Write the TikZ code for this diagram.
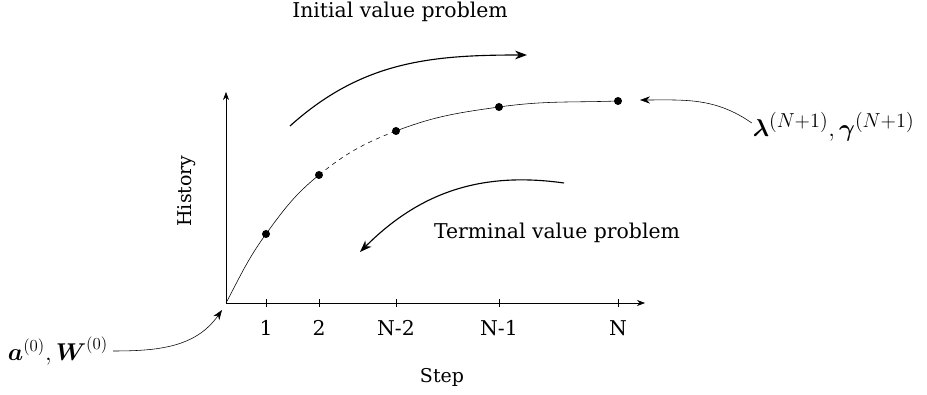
\documentclass[tikz,border=0pt]{standalone}
\usepackage{amsmath, amssymb}
\usepackage{fontspec}
\setmainfont{DejaVu Serif}
\usetikzlibrary{arrows.meta, positioning, calc}

\begin{document}
\begin{tikzpicture}[
  dot/.style={circle, fill=black, inner sep=0pt, minimum size=0.2cm},
  tick/.style={draw=none, inner sep=1pt},
  bigarrow/.style={thick, -{Stealth[length=0.3cm, width=0.22cm]}},
  smallarrow/.style={-{Stealth[length=0.25cm, width=0.18cm]}},
  font=\fontsize{14.5}{17}\selectfont]

  \useasboundingbox (0,0) rectangle (23.175,9.875);

  % axes
  \coordinate (O) at (5.65,2.3);
  \coordinate (ytop) at (5.65,7.575);
  \coordinate (xend) at (16.125,2.3);
  \draw[-{Stealth[length=0.2cm, width=0.15cm]}] (O) -- (ytop);
  \draw[-{Stealth[length=0.2cm, width=0.15cm]}] (O) -- (xend);

  % ticks and their labels
  \foreach \x/\lab/\nm in {6.65/1/t1, 7.975/2/t2, 9.9/N-2/t3, 12.475/N-1/t4, 15.45/N/t5} {
    \draw (\x,2.2) -- (\x,2.4);
    \node[tick] (\nm) at (\x,1.675) {\lab};
  }

  \node[font=\fontsize{13.5}{16}\selectfont] (steplabel) at (11.05,0.45) {Step};
  \node[rotate=90, font=\fontsize{13.5}{16}\selectfont] (histlabel) at (4.66,5.1) {History};

  % points on the history curve
  \node[dot] (p1) at (6.65,4.025) {};
  \node[dot] (p2) at (7.975,5.5) {};
  \node[dot] (p3) at (9.9,6.6) {};
  \node[dot] (p4) at (12.475,7.2) {};
  \node[dot] (p5) at (15.45,7.35) {};

  \draw (O) to[out=62,in=234] (p1.center) to[out=54,in=219] (p2.center);
  \draw[dashed] (p2.center) to[out=39,in=201] (p3.center);
  \draw (p3.center) to[out=21,in=188] (p4.center) to[out=8,in=182] (p5.center);

  % initial value problem
  \coordinate (ivpstart) at (7.25,6.725);
  \coordinate (ivpend) at (13.175,8.5);
  \draw[bigarrow] (ivpstart) to[out=42,in=180] (ivpend);
  \node (ivplabel) at (10.0,9.575) {Initial value problem};

  % terminal value problem
  \coordinate (tvpstart) at (14.1,5.3);
  \coordinate (tvpend) at (9.0,3.575);
  \draw[bigarrow] (tvpstart) to[out=172,in=45] (tvpend);
  \node (tvplabel) at (13.925,4.05) {Terminal value problem};

  % initial and terminal data
  \node[font=\fontsize{17.5}{20}\selectfont] (initdata) at (1.45,1.1)
    {$\boldsymbol{a}^{(0)}, \boldsymbol{W}^{(0)}$};
  \coordinate (initend) at (5.55,2.125);
  \draw[smallarrow] (initdata.east) to[out=0,in=235] (initend);

  \node[font=\fontsize{19}{22}\selectfont] (termdata) at (20.84,6.7)
    {$\boldsymbol{\lambda}^{(N+1)}, \boldsymbol{\gamma}^{(N+1)}$};
  \coordinate (termend) at (16.0,7.375);
  \draw[smallarrow] ($(termdata.west)+(0.1,0.1)$) to[out=145,in=0] (termend);
\end{tikzpicture}
\end{document}
